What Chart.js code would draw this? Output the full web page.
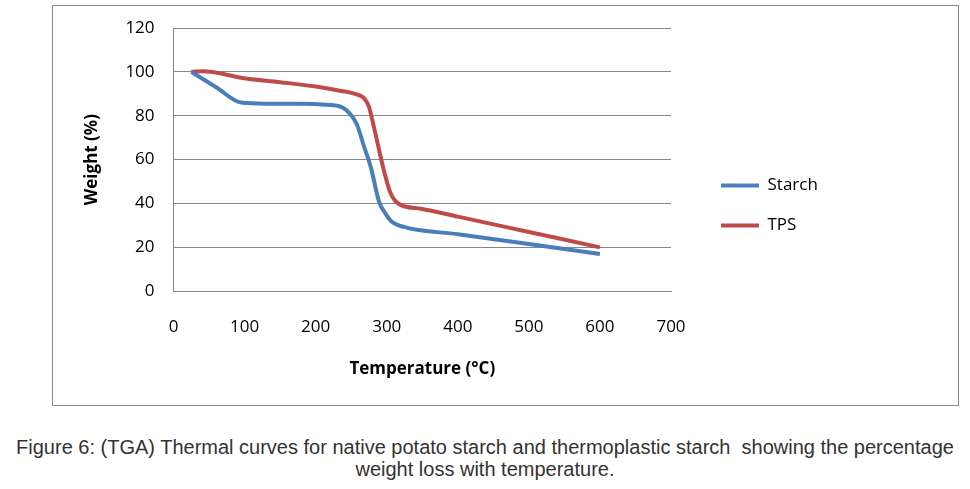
<!DOCTYPE html>
<html>
<head>
<meta charset="utf-8">
<script src="https://cdn.jsdelivr.net/npm/chart.js@4.4.4/dist/chart.umd.min.js"></script>
<style>
    body { margin: 0; background: #fff; width: 970px; height: 489px; position: relative; overflow: hidden; }
    #frame { position: absolute; left: 52px; top: 5px; width: 905px; height: 399px; border: 1px solid #888; }
    #caption { position: absolute; left: 0; top: 436px; width: 970px; text-align: center;
        font-family: "Liberation Sans", Arial, sans-serif; font-size: 20px; color: #333; line-height: 22px; }
</style>
</head>
<body>
<div id="frame"><canvas id="tga" width="905" height="399"></canvas></div>
<div id="caption">Figure 6: (TGA) Thermal curves for native potato starch and thermoplastic starch&nbsp; showing the percentage<br>weight loss with temperature.</div>
<script>
// values
const starchTemp = [25, 60, 95, 130, 180, 215, 236, 248, 258, 268, 278, 289, 299, 306, 324, 400, 500, 600];
const starchWeight = [100, 93, 86, 85.5, 85.5, 85, 84, 81, 76, 66, 56, 41, 35, 32, 29.3, 26, 21.5, 17];
const tpsTemp = [25, 43, 70, 95, 150, 200, 236, 255, 268, 275, 282, 296, 305, 316, 348, 400, 500, 600];
const tpsWeight = [100, 100.3, 99, 97.3, 95.3, 93.3, 91.3, 90, 88, 84, 74.7, 55, 45, 40, 37.6, 34, 27, 20];

const xTicks = [0, 100, 200, 300, 400, 500, 600, 700];
const yTicks = [0, 20, 40, 60, 80, 100, 120];

const font = "'Open Sans', 'Noto Sans', sans-serif";

function toPoints(xs, ys) {
    return xs.map((x, i) => ({ x, y: ys[i] }));
}

const lineStyle = {
    borderWidth: 4,
    pointRadius: 0,
    cubicInterpolationMode: "monotone",
    fill: false
};

new Chart(document.getElementById("tga"), {
    type: "line",
    data: {
        datasets: [
            { label: "Starch", data: toPoints(starchTemp, starchWeight), borderColor: "#4a7ebb", backgroundColor: "#4a7ebb", ...lineStyle },
            { label: "TPS", data: toPoints(tpsTemp, tpsWeight), borderColor: "#be4b48", backgroundColor: "#be4b48", ...lineStyle }
        ]
    },
    options: {
        responsive: false,
        animation: false,
        layout: { padding: { left: 25, top: 22, right: 136, bottom: 22 } },
        scales: {
            x: {
                type: "linear",
                min: 0,
                max: 700,
                afterBuildTicks(axis) { axis.ticks = xTicks.map(v => ({ value: v })); },
                grid: { display: false, drawTicks: false },
                border: { display: true, color: "#868686", width: 1 },
                ticks: { color: "#000", padding: 26, font: { family: font, size: 17 } },
                title: { display: true, text: "Temperature (°C)", color: "#000", padding: { top: -5 }, font: { family: font, size: 17, weight: "bold" } }
            },
            y: {
                min: 0,
                max: 120,
                afterBuildTicks(axis) { axis.ticks = yTicks.map(v => ({ value: v })); },
                // let the layout padding alone decide where the plot starts
                afterFit(scale) { scale.paddingTop = 0; scale.paddingBottom = 0; },
                grid: { color: "#868686", drawTicks: false, lineWidth: 1 },
                border: { display: true, color: "#868686", width: 1 },
                ticks: { color: "#000", padding: 19, font: { family: font, size: 17 } },
                title: { display: true, text: "Weight (%)", color: "#000", padding: { bottom: 4 }, font: { family: font, size: 17, weight: "bold" } }
            },
            // empty spacer between the plot and the legend
            gap: {
                position: "right",
                grid: { display: false, drawTicks: false },
                border: { display: false },
                ticks: { display: false },
                afterFit(scale) { scale.width = 27; }
            }
        },
        plugins: {
            legend: {
                position: "right",
                labels: {
                    color: "#000",
                    boxWidth: 38,
                    boxHeight: 4,
                    padding: 23,
                    font: { family: font, size: 17 },
                    generateLabels(chart) {
                        return chart.data.datasets.map((ds, i) => ({
                            text: ds.label,
                            fillStyle: ds.borderColor,
                            strokeStyle: ds.borderColor,
                            fontColor: "#000",
                            lineWidth: 0,
                            datasetIndex: i
                        }));
                    }
                }
            },
            tooltip: { enabled: false }
        }
    }
});
</script>
</body>
</html>
